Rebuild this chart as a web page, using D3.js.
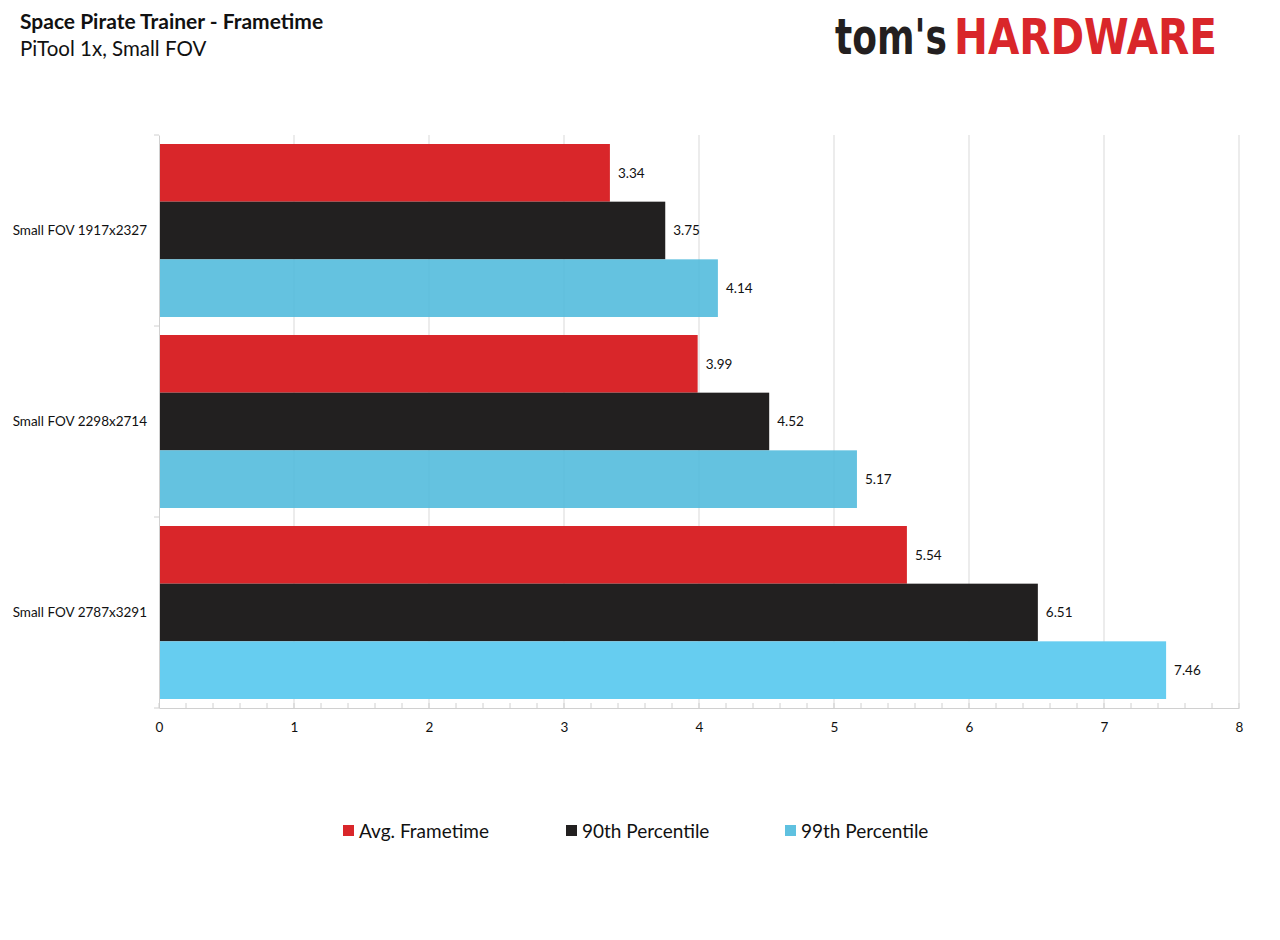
<!DOCTYPE html>
<html>
<head>
<meta charset="utf-8">
<script src="https://cdn.jsdelivr.net/npm/d3@7"></script>
<style>
  body { margin: 0; background: #fff; }
  text { font-family: Lato, "Open Sans", sans-serif; fill: #111; }
</style>
</head>
<body>
<div id="chart"></div>
<script>
// Chart data
const categories = ["Small FOV 1917x2327", "Small FOV 2298x2714", "Small FOV 2787x3291"];
const seriesNames = ["Avg. Frametime", "90th Percentile", "99th Percentile"];
const avgFrametime = [3.34, 3.99, 5.54];
const p90 = [3.75, 4.52, 6.51];
const p99 = [4.14, 5.17, 7.46];
const xTicks = [0, 1, 2, 3, 4, 5, 6, 7, 8];

const seriesValues = [avgFrametime, p90, p99];
const colors = ["#d9262a", "#222020", "#66cdf0"];

const fullWidth = 1280, fullHeight = 940;
const margin = { top: 135, left: 159, right: 41, bottom: 232 };
const width = fullWidth - margin.left - margin.right,
    height = fullHeight - margin.top - margin.bottom;

const svg = d3.select("#chart")
    .append("svg")
    .attr("width", fullWidth)
    .attr("height", fullHeight);

// Titles
svg.append("text")
    .attr("x", 20).attr("y", 29)
    .style("font-size", "21px").style("font-weight", "bold")
    .text("Space Pirate Trainer - Frametime");
svg.append("text")
    .attr("x", 20).attr("y", 56)
    .style("font-size", "20.5px")
    .text("PiTool 1x, Small FOV");

// Logo: draw each word, then squeeze it into its box
function logoWord(txt, x0, targetW, color) {
    const t = svg.append("text")
        .attr("x", 0).attr("y", 0)
        .style("font-family", "'DejaVu Sans Condensed', 'DejaVu Sans'")
        .style("font-weight", "bold")
        .style("font-size", "50px").style("fill", color)
        .text(txt);
    const w = t.node().getComputedTextLength();
    t.attr("transform", `translate(${x0},54) scale(${targetW / w},1)`);
}
logoWord("tom's", 835, 112, "#231f20");
logoWord("HARDWARE", 954, 263, "#d9262a");

const g = svg.append("g")
    .attr("transform", `translate(${margin.left},${margin.top})`);

// Scales
const x = d3.scaleLinear().domain([0, 8]).range([0, width]);
const y0 = d3.scaleBand().domain(categories).range([0, height]).paddingInner(0).paddingOuter(0);
const y1 = d3.scaleBand().domain(seriesNames).range([9, y0.bandwidth() - 9]).padding(0);

// Gridlines
g.append("g")
    .selectAll("line")
    .data(xTicks.slice(1))
    .join("line")
    .attr("x1", d => x(d)).attr("x2", d => x(d))
    .attr("y1", 0).attr("y2", height)
    .attr("stroke", "#d9d9d9").attr("stroke-width", 1);

// Bars
const groups = g.selectAll(".group")
    .data(categories)
    .join("g")
    .attr("class", "group")
    .attr("transform", d => `translate(0,${y0(d)})`);

groups.each(function(cat, ci) {
    const grp = d3.select(this);
    seriesNames.forEach((s, si) => {
        const v = seriesValues[si][ci];
        const isCyanDim = si === 2 && ci < categories.length - 1;
        grp.append("rect")
            .attr("x", x(0))
            .attr("y", y1(s))
            .attr("width", x(v) - x(0))
            .attr("height", y1.bandwidth())
            .attr("fill", isCyanDim ? "#4fb9dc" : colors[si])
            .attr("fill-opacity", isCyanDim ? 0.88 : 1);
        grp.append("text")
            .attr("x", x(v) + 8)
            .attr("y", y1(s) + y1.bandwidth() / 2)
            .attr("dy", "0.35em")
            .style("font-size", "13.5px")
            .text(d3.format(".2f")(v));
    });
});

// X axis
const xAxis = g.append("g")
    .attr("transform", `translate(0,${height})`)
    .call(d3.axisBottom(x).tickValues(xTicks).tickSize(0).tickPadding(14).tickFormat(d3.format("d")));
xAxis.select(".domain").attr("stroke", "#d0d0d0");
xAxis.selectAll("text").style("font-size", "13.5px").style("fill", "#111");

// Minor ticks
g.append("g")
    .selectAll("line")
    .data(d3.range(0, 41).map(i => i / 5))
    .join("line")
    .attr("x1", d => x(d)).attr("x2", d => x(d))
    .attr("y1", height - 5).attr("y2", height)
    .attr("stroke", "#d0d0d0");

// Y axis
const yAxis = g.append("g")
    .call(d3.axisLeft(y0).tickSize(0).tickPadding(12));
yAxis.select(".domain").attr("stroke", "#d0d0d0");
yAxis.selectAll("text").style("font-size", "13.5px").style("fill", "#111");

g.append("g")
    .selectAll("line")
    .data(categories.map(c => y0(c)).concat([height]))
    .join("line")
    .attr("x1", -5).attr("x2", 0)
    .attr("y1", d => d).attr("y2", d => d)
    .attr("stroke", "#d0d0d0");

// Legend
const legendX = [343, 566, 785];
const legend = svg.append("g")
    .selectAll("g")
    .data(seriesNames)
    .join("g")
    .attr("transform", (d, i) => `translate(${legendX[i]},831)`);
legend.append("rect")
    .attr("x", 0).attr("y", -6)
    .attr("width", 11).attr("height", 11)
    .attr("fill", (d, i) => colors[i] === "#66cdf0" ? "#5fc1e0" : colors[i]);
legend.append("text")
    .attr("x", 16).attr("dy", "0.35em")
    .style("font-size", "19px")
    .text(d => d);
</script>
</body>
</html>
